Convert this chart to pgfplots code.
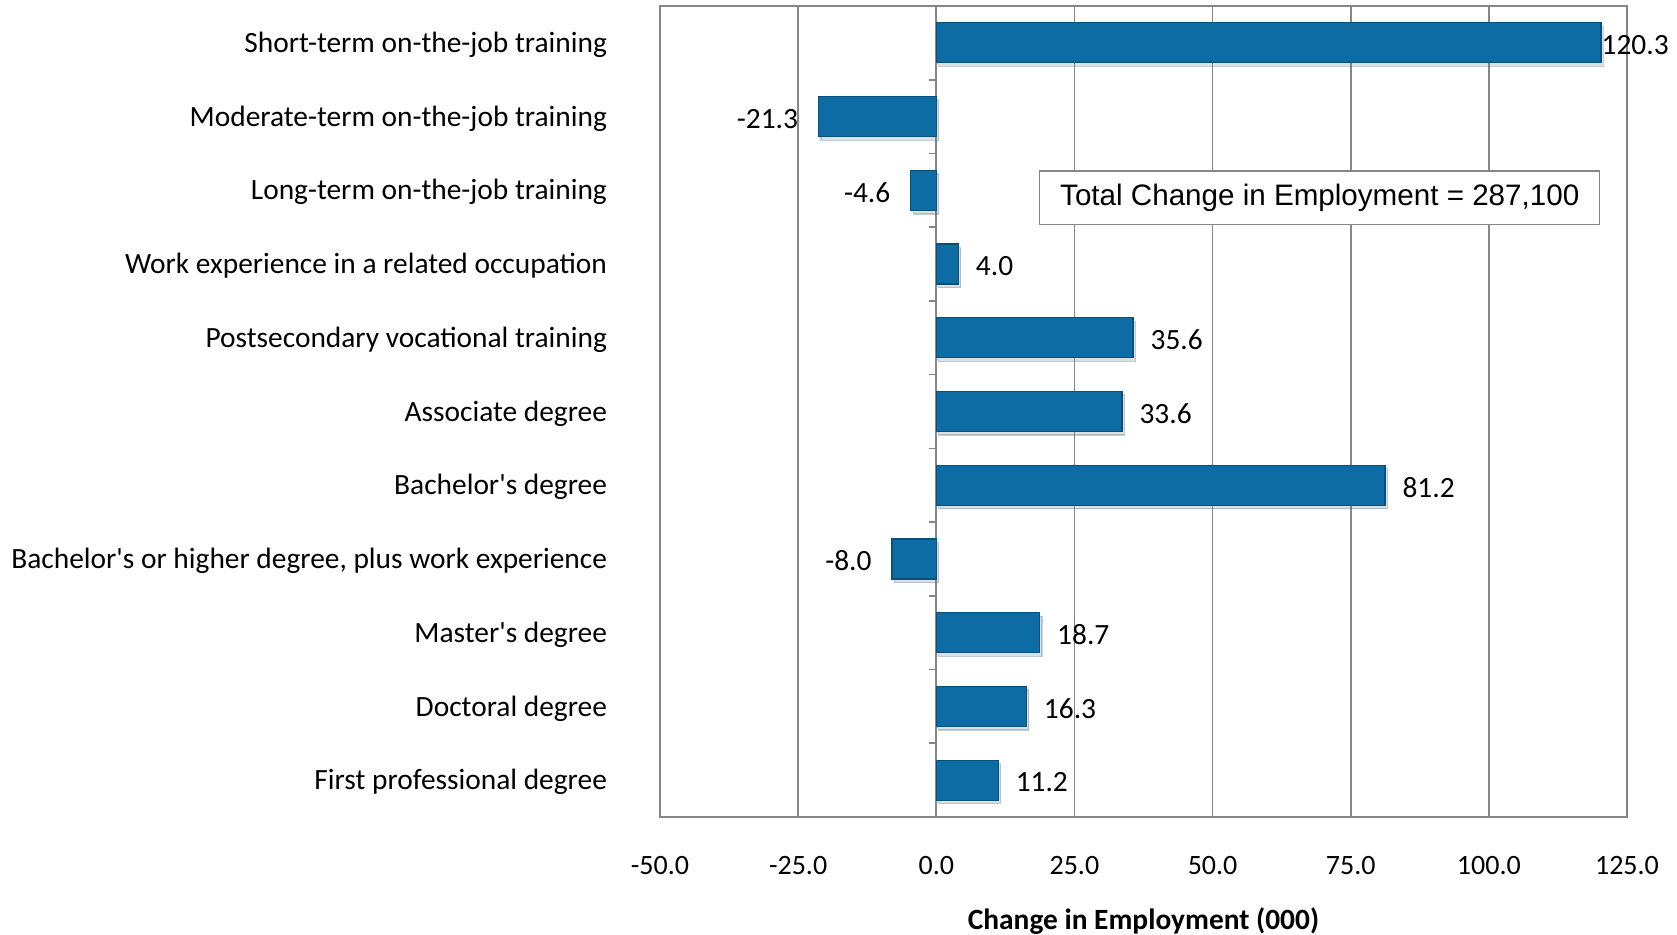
\documentclass[border=0pt]{standalone}
\usepackage{fontspec}
\setmainfont{Carlito}
\newfontfamily\arialfont{Liberation Sans}
\usepackage{pgfplots}
\pgfplotsset{compat=1.18}
\usetikzlibrary{shadows}
\definecolor{barblue}{RGB}{12,108,163}
\definecolor{baredge}{RGB}{10,80,125}
\definecolor{gridgray}{RGB}{134,134,134}
\begin{document}
\begin{tikzpicture}
\path[use as bounding box] (0,0) rectangle (838.5pt,467.5pt);
\begin{axis}[
  at={(330pt,59pt)}, anchor=south west,
  scale only axis, width=483.5pt, height=405.5pt,
  xmin=-50, xmax=125, ymin=-0.5, ymax=10.5,
  xtick={-50,-25,...,125},
  ytick={0,...,10},
  yticklabels={First professional degree, Doctoral degree, Master\textquotesingle s degree, {Bachelor\textquotesingle s or higher degree, plus work experience}, Bachelor\textquotesingle s degree, Associate degree, Postsecondary vocational training, Work experience in a related occupation, Long-term on-the-job training, Moderate-term on-the-job training, Short-term on-the-job training},
  xmajorgrids, grid style={gridgray, line width=0.8pt},
  axis line style={gridgray, line width=0.8pt},
  major tick length=0pt,
  /pgf/number format/assume math mode=true,
  xticklabel={\pgfmathprintnumber[fixed,fixed zerofill,precision=1]{\tick}},
  tick label style={text=black},
  yticklabel style={font=\fontsize{14.7}{17}\selectfont, xshift=-23pt, yshift=-1pt},
  xticklabel style={font=\fontsize{14}{17}\selectfont, yshift=-16pt},
  xlabel={\textbf{Change in Employment (000)}},
  xlabel style={font=\fontsize{14.7}{17}\selectfont, yshift=-10pt},
  xbar, bar width=20pt, bar shift=0pt,
  point meta=x,
  nodes near coords={\pgfmathprintnumber[fixed,fixed zerofill,precision=1]{\pgfplotspointmeta}},
  every node near coord/.append style={font=\fontsize{14.7}{17}\selectfont, text=black, inner xsep=8.5pt, yshift=-1pt},
  barstyle/.style={fill=barblue, draw=baredge, line width=0.6pt,
    drop shadow={opacity=0.25, shadow xshift=1.2pt, shadow yshift=-1.8pt}},
]
% positive values
\addplot[barstyle, every node near coord/.append style={anchor=west}] coordinates {
  (11.2,0) (16.3,1) (18.7,2) (81.2,4) (33.6,5) (35.6,6) (4.0,7)
};
% negative values
\addplot[barstyle, every node near coord/.append style={anchor=east, xshift=-1.5pt}] coordinates {
  (-8.0,3) (-4.6,8) (-21.3,9)
};
% largest value, label set against the bar end
\addplot[barstyle, every node near coord/.append style={anchor=west, xshift=-8.5pt}] coordinates {
  (120.3,10)
};
\pgfplotsinvokeforeach{-0.5,0.5,1.5,2.5,3.5,4.5,5.5,6.5,7.5,8.5,9.5}{
  \draw[gridgray, line width=0.8pt] (axis cs:0,#1) -- (axis cs:-1.3,#1);
}
\node[draw=gridgray, line width=0.6pt, fill=white, minimum width=280pt, minimum height=26.7pt, inner sep=2pt, font=\arialfont\fontsize{14.8}{17}\selectfont] at (axis cs:69.4,7.9) {Total Change in Employment = 287,100};
\end{axis}
\end{tikzpicture}
\end{document}
